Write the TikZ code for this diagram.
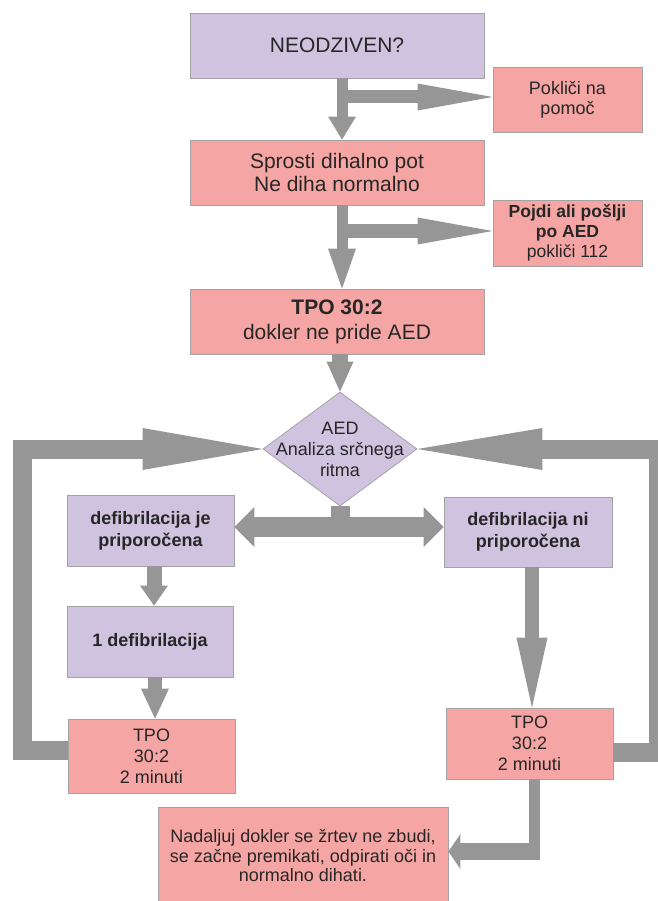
\documentclass[tikz,border=0pt]{standalone}
\usepackage{fontspec}
\setmainfont{Liberation Sans}
\usetikzlibrary{arrows.meta,shapes.geometric,calc}
\definecolor{pinkf}{HTML}{F5A6A4}
\definecolor{lilac}{HTML}{D0C3DF}
\definecolor{arrowgray}{HTML}{969696}
\definecolor{edgegray}{HTML}{A3A3A3}
\definecolor{txt}{HTML}{262626}
\begin{document}
\begin{tikzpicture}[x=1pt,y=-1pt,
  box/.style={draw=edgegray, line width=0.8pt, text=txt, align=center, inner sep=0pt},
  pinkbox/.style={box, fill=pinkf},
  lilacbox/.style={box, fill=lilac},
  big/.style={font=\fontsize{21}{24}\selectfont},
  small/.style={font=\fontsize{18}{21}\selectfont},
  blk/.style={draw=arrowgray, line width=#1, line cap=butt, line join=miter},
  tipw/.style 2 args={-{Triangle[width=#1pt,length=#2pt,line width=0pt]}},
  dtipw/.style 2 args={{Triangle[width=#1pt,length=#2pt,line width=0pt]}-{Triangle[width=#1pt,length=#2pt,line width=0pt]}}
]
\useasboundingbox (0,0) rectangle (657,901);

% boxes
\node[lilacbox, big, minimum width=294pt, minimum height=65pt] (b1) at (337,45.5) {NEODZIVEN?};
\node[pinkbox, small, minimum width=149pt, minimum height=65pt, font=\fontsize{18}{20}\selectfont] (pom) at (567.5,99.5) {Pokliči na\\pomoč};
\node[pinkbox, big, minimum width=294pt, minimum height=65pt, font=\fontsize{21}{23}\selectfont] (b2) at (337,172.5) {Sprosti dihalno pot\\Ne diha normalno};
\node[pinkbox, minimum width=149pt, minimum height=66pt, font=\fontsize{17.5}{20}\selectfont] (aed) at (567.5,233) {\textbf{Pojdi ali pošlji}\\\textbf{po AED}\\pokliči 112};
\node[pinkbox, minimum width=294pt, minimum height=65pt, font=\fontsize{21}{25}\selectfont] (tpo) at (337,321.5) {\textbf{TPO 30:2}\\dokler ne pride AED};

\node[diamond, draw=edgegray, line width=0.8pt, fill=lilac, minimum width=154pt, minimum height=114pt, inner sep=0pt] (dia) at (340,449) {};
\node[text=txt, align=center, font=\fontsize{18}{21}\selectfont] (diat) at (dia.center) {AED\\Analiza srčnega\\ritma};

\node[lilacbox, minimum width=167pt, minimum height=71pt, font=\bfseries\fontsize{18}{22}\selectfont] (dj) at (150.5,530.5) {defibrilacija je\\priporočena};
\node[lilacbox, minimum width=168pt, minimum height=70pt, font=\bfseries\fontsize{18}{22}\selectfont] (dn) at (528,532) {defibrilacija ni\\priporočena};
\node[lilacbox, minimum width=166pt, minimum height=71pt, font=\bfseries\fontsize{18}{22}\selectfont] (d1) at (150,641.5) {1 defibrilacija};
\node[pinkbox, minimum width=167pt, minimum height=74pt, font=\fontsize{18}{21}\selectfont] (tl) at (151.5,756) {TPO\\30:2\\2 minuti};
\node[pinkbox, minimum width=167pt, minimum height=71pt, font=\fontsize{18}{21}\selectfont] (tr) at (529.5,743.5) {TPO\\30:2\\2 minuti};
\node[pinkbox, minimum width=290pt, minimum height=98pt, font=\fontsize{18}{19.5}\selectfont] (nad) at (303,856) {Nadaljuj dokler se žrtev ne zbudi,\\se začne premikati, odpirati oči in\\normalno dihati.};

% helper coordinates
\coordinate (j1) at (342,97);
\coordinate (j2) at (342,231);
\coordinate (D) at (0,527);
\coordinate (X5) at (154,0);
\coordinate (X6) at (155,0);
\coordinate (X8) at (532,0);
\coordinate (Lb) at (22,750);
\coordinate (Lt) at (22,449);
\coordinate (Rb) at (658,752);
\coordinate (Rt) at (658,449);
\coordinate (k10) at (534.5,860);
\coordinate (h10) at (540,851.5);

% arrows
\draw[blk=11, tipw={28}{23}] ([xshift=5pt]b1.south) -- ([xshift=5pt]b2.north);
\draw[blk=13, tipw={27}{75}] (j1) -- (j1 -| pom.west);
\draw[blk=11, tipw={28}{40}] ([xshift=5pt]b2.south) -- ([xshift=5pt]tpo.north);
\draw[blk=13, tipw={27}{75}] (j2) -- (j2 -| aed.west);
\draw[blk=16, tipw={27}{30}] (dia.north |- tpo.south) -- (dia.north);
\draw[blk=19] (dia.south) -- (dia.south |- D);
\draw[blk=20, dtipw={40}{20}] (dj.east |- D) -- (dn.west |- D);
\draw[blk=15, tipw={28}{20}] (dj.south -| X5) -- (d1.north -| X5);
\draw[blk=14, tipw={28}{30}] (d1.south -| X6) -- (tl.north -| X6);
\draw[blk=14, tipw={31}{70}] (dn.south -| X8) -- (tr.north -| X8);
\draw[blk=19, tipw={42}{120}] (tl.west |- Lb) -- (Lb) -- (Lt) -- (dia.west);
\draw[blk=19, tipw={42}{125}] (tr.east |- Rb) -- (Rb) -- (Rt) -- (dia.east);
\draw[blk=11] (tr.south -| k10) -- (k10);
\draw[blk=17, tipw={35}{12}] (h10) -- (h10 -| nad.east);
\end{tikzpicture}
\end{document}
